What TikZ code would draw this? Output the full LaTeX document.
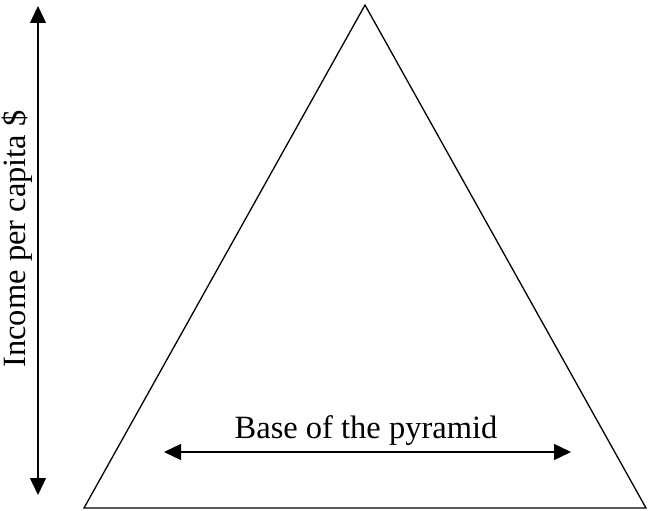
\documentclass[tikz,border=0pt]{standalone}
\usepackage{fontspec}
\setmainfont{Liberation Serif}
\usetikzlibrary{arrows.meta}
\tikzset{
  edge/.style={line width=1.3pt, line join=miter},
  dbl/.style={line width=1.3pt, {Triangle[width=16pt,length=17pt]}-{Triangle[width=16pt,length=17pt]}},
  lbl/.style={font=\fontsize{32.5}{38}\selectfont, inner sep=0pt}
}
\begin{document}
\begin{tikzpicture}[x=1pt,y=-1pt]
\useasboundingbox (0,0) rectangle (648,511);
% pyramid
\coordinate (apex) at (365,5);
\coordinate (bl) at (84,508);
\coordinate (br) at (646,508);
\draw[edge] (apex) -- (br) -- (bl) -- cycle;
% vertical income arrow
\coordinate (vtop) at (38,6);
\coordinate (vbot) at (38,495);
\draw[dbl] (vbot) -- (vtop);
\node[lbl, rotate=90, anchor=base] (income) at (25,239) {Income per capita \$};
% base arrow
\coordinate (hl) at (164,452);
\coordinate (hr) at (571,452);
\draw[dbl] (hl) -- (hr);
\node[lbl, anchor=base] (base) at (366,438) {Base of the pyramid};
\end{tikzpicture}
\end{document}
